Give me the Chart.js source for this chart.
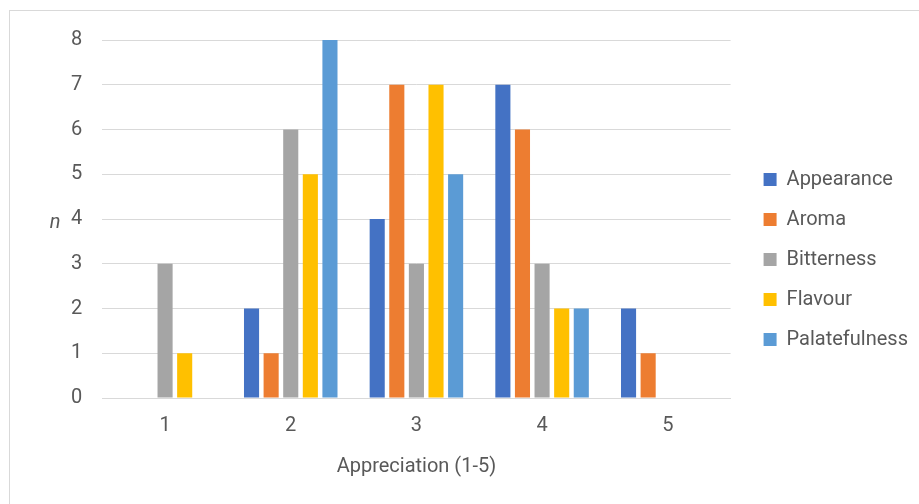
<!DOCTYPE html>
<html>
<head>
<meta charset="utf-8">
<script src="https://cdn.jsdelivr.net/npm/chart.js@4"></script>
<style>
  html, body { margin: 0; padding: 0; background: #fff; }
  #wrap {
    position: absolute; left: 9px; top: 10px;
    width: 920px; height: 500px;
    border: 1px solid #d9d9d9; box-sizing: border-box;
  }
  #chart { position: absolute; left: -9px; top: -10px; }
</style>
</head>
<body>
<div id="wrap"><canvas id="chart" width="919" height="504"></canvas></div>
<script>
const categories = ['1', '2', '3', '4', '5'];
const appearance = [0, 2, 4, 7, 2];
const aroma = [0, 1, 7, 6, 1];
const bitterness = [3, 6, 3, 3, 0];
const flavour = [1, 5, 7, 2, 0];
const palatefulness = [0, 8, 5, 2, 0];

const textColor = '#595959';
const gridColor = '#d9d9d9';
const fontFamily = 'Roboto, "Open Sans", sans-serif';

function series(label, data, color) {
    return {
        label: label,
        data: data,
        backgroundColor: color,
        borderWidth: 0,
        barPercentage: 0.77,
        categoryPercentage: 0.78
    };
}

// y title drawn upright (italic n) left of the tick labels
const uprightYTitle = {
    id: 'uprightYTitle',
    afterDraw(chart) {
        const ctx = chart.ctx;
        const area = chart.chartArea;
        ctx.save();
        ctx.fillStyle = textColor;
        ctx.font = 'italic 20px ' + fontFamily;
        ctx.textAlign = 'center';
        ctx.textBaseline = 'middle';
        ctx.fillText('n', 54, (area.top + area.bottom) / 2 + 4);
        ctx.restore();
    }
};

new Chart(document.getElementById('chart').getContext('2d'), {
    type: 'bar',
    data: {
        labels: categories,
        datasets: [
            series('Appearance', appearance, '#4472c4'),
            series('Aroma', aroma, '#ed7d31'),
            series('Bitterness', bitterness, '#a5a5a5'),
            series('Flavour', flavour, '#ffc000'),
            series('Palatefulness', palatefulness, '#5b9bd5')
        ]
    },
    plugins: [uprightYTitle],
    options: {
        responsive: false,
        animation: false,
        layout: { padding: { left: 50, top: 39, right: 2, bottom: 26 } },
        plugins: {
            tooltip: { enabled: false },
            legend: {
                position: 'right',
                maxWidth: 220,
                labels: {
                    color: textColor,
                    font: { family: fontFamily, size: 20 },
                    boxWidth: 13,
                    boxHeight: 13,
                    padding: 20
                }
            }
        },
        scales: {
            x: {
                grid: { display: false, drawTicks: false },
                border: { display: true, color: gridColor, width: 1 },
                ticks: { color: textColor, font: { family: fontFamily, size: 20 }, padding: 16 },
                title: {
                    display: true,
                    text: 'Appreciation (1-5)',
                    color: textColor,
                    font: { family: fontFamily, size: 20 },
                    padding: { top: 1, bottom: 0 }
                }
            },
            y: {
                min: 0,
                max: 8,
                grid: { color: gridColor, lineWidth: 1, drawTicks: false },
                border: { display: false },
                ticks: { stepSize: 1, color: textColor, font: { family: fontFamily, size: 20 }, padding: 20 }
            },
            // empty axis that only keeps a gap between the plot and the legend
            gap: {
                type: 'linear',
                position: 'right',
                display: true,
                grid: { display: false },
                border: { display: false },
                ticks: { display: false },
                afterFit(scale) { scale.width = 13; }
            }
        }
    }
});
</script>
</body>
</html>
